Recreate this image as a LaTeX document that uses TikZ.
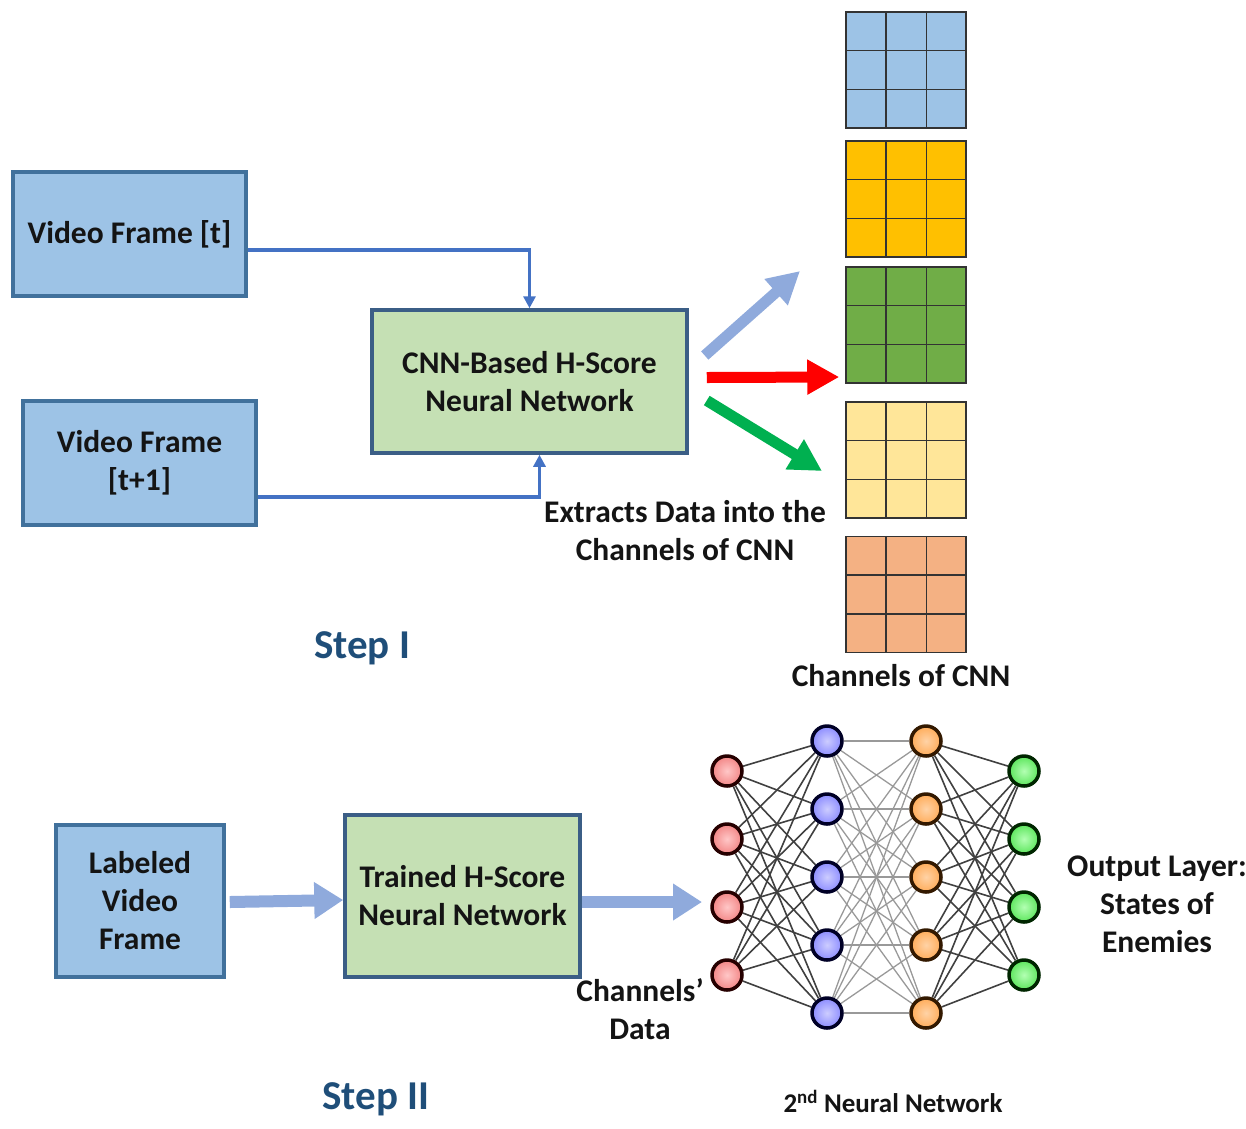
\documentclass[tikz,border=0pt]{standalone}
\usepackage{fontspec}
\setmainfont{Carlito}
\usetikzlibrary{arrows.meta,calc}
\pgfdeclarelayer{background}
\pgfsetlayers{background,main}

\definecolor{boxblue}{HTML}{9DC3E6}
\definecolor{boxblueline}{HTML}{41719C}
\definecolor{boxgreen}{HTML}{C5E0B4}
\definecolor{boxgreenline}{HTML}{3B5E86}
\definecolor{connblue}{HTML}{4472C4}
\definecolor{fatblue}{HTML}{8FAADC}
\definecolor{fatred}{HTML}{FF0000}
\definecolor{fatgreen}{HTML}{00B050}
\definecolor{steptext}{HTML}{1F4E79}
\definecolor{chblue}{HTML}{9DC3E6}
\definecolor{chyellow}{HTML}{FFC000}
\definecolor{chgreen}{HTML}{70AD47}
\definecolor{chpale}{HTML}{FFE699}
\definecolor{chorange}{HTML}{F4B183}
\definecolor{textdark}{HTML}{141414}

\tikzset{
  basebox/.style={line width=3.5pt, align=center, text=textdark,
    font=\bfseries\fontsize{31.5}{38}\selectfont, inner sep=0pt},
  bluebox/.style={basebox, draw=boxblueline, fill=boxblue},
  greenbox/.style={basebox, draw=boxgreenline, fill=boxgreen},
  conn/.style={draw=connblue, line width=3.5pt,
    -{Triangle[length=12pt,width=12pt]}},
  fat/.style={line width=11pt, -{Triangle[length=32pt,width=33pt]}},
  fatflow/.style={draw=fatblue, line width=12pt,
    -{Triangle[length=29pt,width=35pt]}},
  chgrid/.style={draw=black!80, line width=1.5pt, minimum width=120pt,
    minimum height=116pt, inner sep=0pt},
  label/.style={font=\bfseries\fontsize{31.5}{38}\selectfont, text=textdark,
    align=center, inner sep=0pt},
  steplabel/.style={font=\bfseries\fontsize{41}{46}\selectfont,
    text=steptext, inner sep=0pt},
  neuron/.style={circle, line width=3.5pt, minimum size=30pt, inner sep=0pt},
  nred/.style={neuron, draw=black!85!red, inner color=red!22, outer color=red!45!white!95!black},
  nblue/.style={neuron, draw=black!85!blue, inner color=blue!20, outer color=blue!45!white},
  norange/.style={neuron, draw=black!80!orange, inner color=orange!35, outer color=orange!65!white},
  ngreen/.style={neuron, draw=black!85!green, inner color=green!30, outer color=green!60!white!90!black},
  wdark/.style={draw=black!75, line width=1.6pt},
  wlight/.style={draw=black!40, line width=1.3pt},
}

\begin{document}
\begin{tikzpicture}[x=1pt,y=-1pt]
\useasboundingbox (0,0) rectangle (1246,1128);

% ---------- Step I ----------
\node[bluebox, minimum width=233pt, minimum height=124pt] (vft) at (129.5,234) {Video Frame [t]};
\node[bluebox, minimum width=233pt, minimum height=124pt] (vfn) at (139.5,463) {Video Frame\\{}[t+1]};
\node[greenbox, minimum width=315pt, minimum height=143pt] (cnn) at (529.5,381.5) {CNN-Based H-Score\\Neural Network};

\draw[conn] ([yshift=-16pt]vft.east) -| (cnn.north);
\draw[conn] ([yshift=-34pt]vfn.east) -| ([xshift=10pt]cnn.south);

% channel grids
\foreach \n/\yc/\col in {1/70/chblue, 2/199/chyellow, 3/325/chgreen, 4/460/chpale, 5/594.5/chorange}{
  \node[chgrid, fill=\col] (ch\n) at (906,\yc) {};
  \foreach \t in {1,2}{
    \draw[draw=black!80, line width=1.5pt]
      ($(ch\n.north west)!\t/3!(ch\n.north east)$) -- ($(ch\n.south west)!\t/3!(ch\n.south east)$);
    \draw[draw=black!80, line width=1.5pt]
      ($(ch\n.north west)!\t/3!(ch\n.south west)$) -- ($(ch\n.north east)!\t/3!(ch\n.south east)$);
  }
}

% extraction arrows
\coordinate (tipblue) at (800,271);
\coordinate (tipgreen) at (822,471);
\draw[fat, draw=fatblue] ([shift={(16pt,26pt)}]cnn.east) -- (tipblue);
\draw[fat, draw=fatred] ([shift={(18pt,4pt)}]cnn.east) -- ([xshift=-6pt]ch3.west |- 0,377);
\draw[fat, draw=fatgreen] ([shift={(18pt,-19pt)}]cnn.east) -- (tipgreen);

\node[label] (extract) at (685,530.5) {Extracts Data into the\\Channels of CNN};
\node[label] (chlabel) at (901,676) {Channels of CNN};
\node[steplabel] (step1) at (362,648) {Step I};

% ---------- Step II ----------
\node[bluebox, minimum width=168pt, minimum height=152pt] (lvf) at (140,901) {Labeled\\Video\\Frame};
\node[greenbox, minimum width=235pt, minimum height=162pt] (thn) at (462.5,896) {Trained H-Score\\Neural Network};

\draw[fatflow] ([xshift=4pt,yshift=-1pt]lvf.east) -- ([yshift=-4pt]thn.west);
\coordinate (nnin) at (702,902);
\draw[fatflow] ([yshift=-6pt]thn.east) -- (nnin);

% second neural network
\foreach \i/\y in {1/771,2/839,3/907,4/975} \node[nred] (a\i) at (727,\y) {};
\foreach \i/\y in {1/741,2/809,3/877,4/945,5/1013} \node[nblue] (b\i) at (827,\y) {};
\foreach \i/\y in {1/741,2/809,3/877,4/945,5/1013} \node[norange] (c\i) at (926,\y) {};
\foreach \i/\y in {1/771,2/839,3/907,4/975} \node[ngreen] (d\i) at (1024,\y) {};

\begin{pgfonlayer}{background}
  \foreach \i in {1,...,4}{\foreach \j in {1,...,5}{\draw[wdark] (a\i) -- (b\j);}}
  \foreach \i in {1,...,5}{\foreach \j in {1,...,5}{\draw[wlight] (b\i) -- (c\j);}}
  \foreach \i in {1,...,5}{\foreach \j in {1,...,4}{\draw[wdark] (c\i) -- (d\j);}}
\end{pgfonlayer}

\node[label] (chdata) at (640,1009.5) {Channels’\\Data};
\node[label] (outlabel) at (1157,904) {Output Layer:\\States of\\Enemies};
\node[font=\bfseries\fontsize{27}{30}\selectfont, text=textdark, inner sep=0pt] (nn2) at (893,1101) {2\textsuperscript{nd} Neural Network};
\node[steplabel] (step2) at (376,1099) {Step II};
\end{tikzpicture}
\end{document}
